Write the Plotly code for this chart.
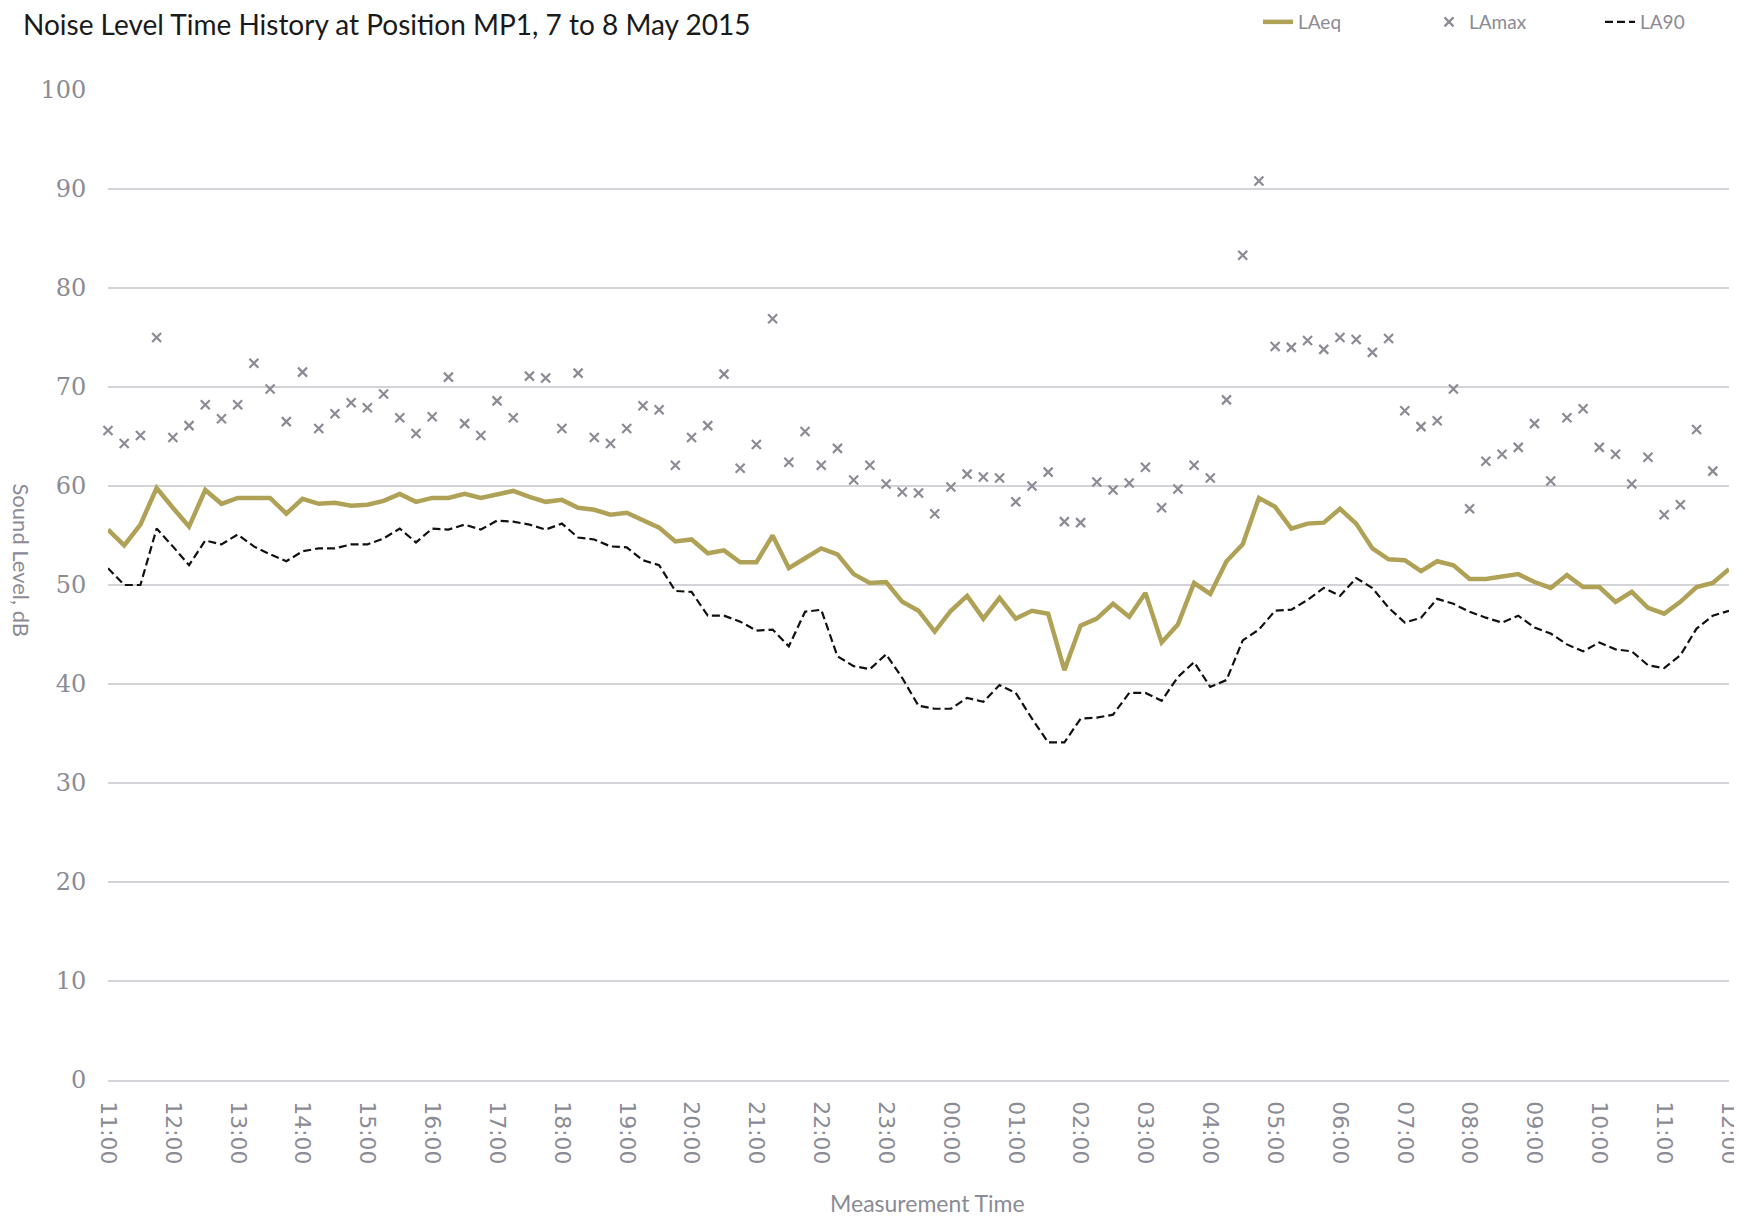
import pandas as pd
import plotly.graph_objects as go

# 15-minute measurement intervals, 11:00 on 7 May 2015 to 12:00 on 8 May 2015
times = pd.date_range("2015-05-07 11:00", periods=101, freq="15min")

laeq = [55.6, 54.0, 56.1, 59.8, 57.8, 55.9, 59.6, 58.2, 58.8, 58.8,
        58.8, 57.2, 58.7, 58.2, 58.3, 58.0, 58.1, 58.5, 59.2, 58.4,
        58.8, 58.8, 59.2, 58.8, 59.2, 59.5, 58.9, 58.4, 58.6, 57.8,
        57.6, 57.1, 57.3, 56.6, 55.8, 54.4, 54.6, 53.2, 53.5, 52.3,
        52.3, 55.0, 51.7, 52.7, 53.7, 53.1, 51.1, 50.2, 50.3, 48.3,
        47.4, 45.3, 47.4, 48.9, 46.6, 48.7, 46.6, 47.4, 47.1, 41.4,
        45.9, 46.6, 48.1, 46.8, 49.2, 44.2, 46.0, 50.2, 49.1, 52.4,
        54.1, 58.8, 57.9, 55.7, 56.2, 56.3, 57.7, 56.2, 53.7, 52.6,
        52.5, 51.4, 52.4, 52.0, 50.6, 50.6, 50.9, 51.1, 50.3, 49.7,
        51.0, 49.8, 49.8, 48.3, 49.3, 47.7, 47.1, 48.3, 49.8, 50.2,
        51.6]

lamax = [65.6, 64.3, 65.1, 75.0, 64.9, 66.1, 68.2, 66.8, 68.2, 72.4,
         69.8, 66.5, 71.5, 65.8, 67.3, 68.4, 67.9, 69.3, 66.9, 65.3,
         67.0, 71.0, 66.3, 65.1, 68.6, 66.9, 71.1, 70.9, 65.8, 71.4,
         64.9, 64.3, 65.8, 68.1, 67.7, 62.1, 64.9, 66.1, 71.3, 61.8,
         64.2, 76.9, 62.4, 65.5, 62.1, 63.8, 60.6, 62.1, 60.2, 59.4,
         59.3, 57.2, 59.9, 61.2, 60.9, 60.8, 58.4, 60.0, 61.4, 56.4,
         56.3, 60.4, 59.6, 60.3, 61.9, 57.8, 59.7, 62.1, 60.8, 68.7,
         83.3, 90.8, 74.1, 74.0, 74.7, 73.8, 75.0, 74.8, 73.5, 74.9,
         67.6, 66.0, 66.6, 69.8, 57.7, 62.5, 63.2, 63.9, 66.3, 60.5,
         66.9, 67.8, 63.9, 63.2, 60.2, 62.9, 57.1, 58.1, 65.7, 61.5,
         None]

la90 = [51.7, 50.0, 50.0, 55.7, 53.9, 52.0, 54.5, 54.1, 55.1, 53.9,
        53.1, 52.4, 53.4, 53.7, 53.7, 54.1, 54.1, 54.7, 55.7, 54.3,
        55.7, 55.6, 56.1, 55.6, 56.5, 56.4, 56.1, 55.6, 56.2, 54.8,
        54.6, 53.9, 53.8, 52.5, 52.0, 49.4, 49.3, 46.9, 46.9, 46.3,
        45.4, 45.5, 43.8, 47.3, 47.5, 42.8, 41.8, 41.5, 43.0, 40.6,
        37.8, 37.5, 37.5, 38.6, 38.2, 39.9, 39.1, 36.5, 34.1, 34.1,
        36.5, 36.6, 36.9, 39.1, 39.1, 38.3, 40.7, 42.2, 39.7, 40.4,
        44.4, 45.5, 47.4, 47.5, 48.5, 49.7, 48.9, 50.7, 49.7, 47.7,
        46.2, 46.7, 48.6, 48.1, 47.3, 46.7, 46.2, 46.9, 45.7, 45.1,
        44.0, 43.3, 44.2, 43.5, 43.3, 41.9, 41.6, 42.9, 45.6, 46.9,
        47.4]

series_names = ["LAeq", "LAmax", "LA90"]
title_text = "Noise Level Time History at Position MP1, 7 to 8 May 2015"
x_title = "Measurement Time"
y_title = "Sound Level, dB"

GRAY = "#8b8b95"
OLIVE = "#afa257"
GRID = "#d4d4d8"

# The page body adds an 8 px margin, so the figure is sized to fit the window.
W, H = 1734, 1209

fig = go.Figure()
fig.add_trace(go.Scatter(x=times, y=laeq, name=series_names[0], mode="lines",
                         line=dict(color=OLIVE, width=4.5), cliponaxis=False))
fig.add_trace(go.Scatter(x=times, y=lamax, name=series_names[1], mode="markers",
                         marker=dict(symbol="x-thin", size=9, color=GRAY,
                                     line=dict(color=GRAY, width=2.2)),
                         cliponaxis=False))
fig.add_trace(go.Scatter(x=times, y=la90, name=series_names[2], mode="lines",
                         line=dict(color="#111111", width=2.2, dash="8px,4px"),
                         cliponaxis=False))

fig.update_layout(
    width=W, height=H,
    margin=dict(l=100, r=13, t=82, b=137, autoexpand=False),
    paper_bgcolor="white", plot_bgcolor="white",
    title=dict(text=title_text, x=15 / W, xanchor="left", xref="container",
               y=1 - 17 / H, yanchor="middle", yref="container",
               font=dict(family="Lato", size=28, color="#1a1a1a")),
    legend=dict(orientation="h", x=(1258 - 108) / 1621, xanchor="left",
                y=(1080 - 22) / 990, yanchor="middle",
                font=dict(family="Lato", size=19, color=GRAY),
                entrywidth=126, entrywidthmode="pixels",
                bgcolor="rgba(0,0,0,0)"),
    showlegend=True,
)

fig.update_xaxes(
    range=[times[0], times[-1]],
    tickformat="%H:%M", dtick=3600000, tick0=times[0],
    tickangle=90, showgrid=False, zeroline=False,
    showline=True, linecolor=GRID, linewidth=1.5,
    ticks="outside", ticklen=15, tickcolor="rgba(0,0,0,0)",
    tickfont=dict(family="DejaVu Sans", size=22, color=GRAY),
    automargin=False,
)
fig.update_yaxes(
    range=[0, 100], dtick=10, tick0=0,
    showgrid=True, gridcolor=GRID, gridwidth=1.5, zeroline=False,
    showline=False,
    ticks="outside", ticklen=16, tickcolor="rgba(0,0,0,0)",
    tickfont=dict(family="DejaVu Serif", size=24, color=GRAY),
    automargin=False,
)

fig.add_annotation(text=x_title, xref="paper", yref="paper", x=(927 - 108) / 1621,
                   y=(1080 - 1203) / 990, xanchor="center", yanchor="middle",
                   showarrow=False, font=dict(family="Lato", size=23, color=GRAY))
fig.add_annotation(text=y_title, xref="paper", yref="paper", x=(21.5 - 108) / 1621,
                   y=(1080 - 560) / 990, xanchor="center", yanchor="middle",
                   textangle=90, showarrow=False,
                   font=dict(family="Lato", size=22, color=GRAY))

fig.write_html("out.html")
